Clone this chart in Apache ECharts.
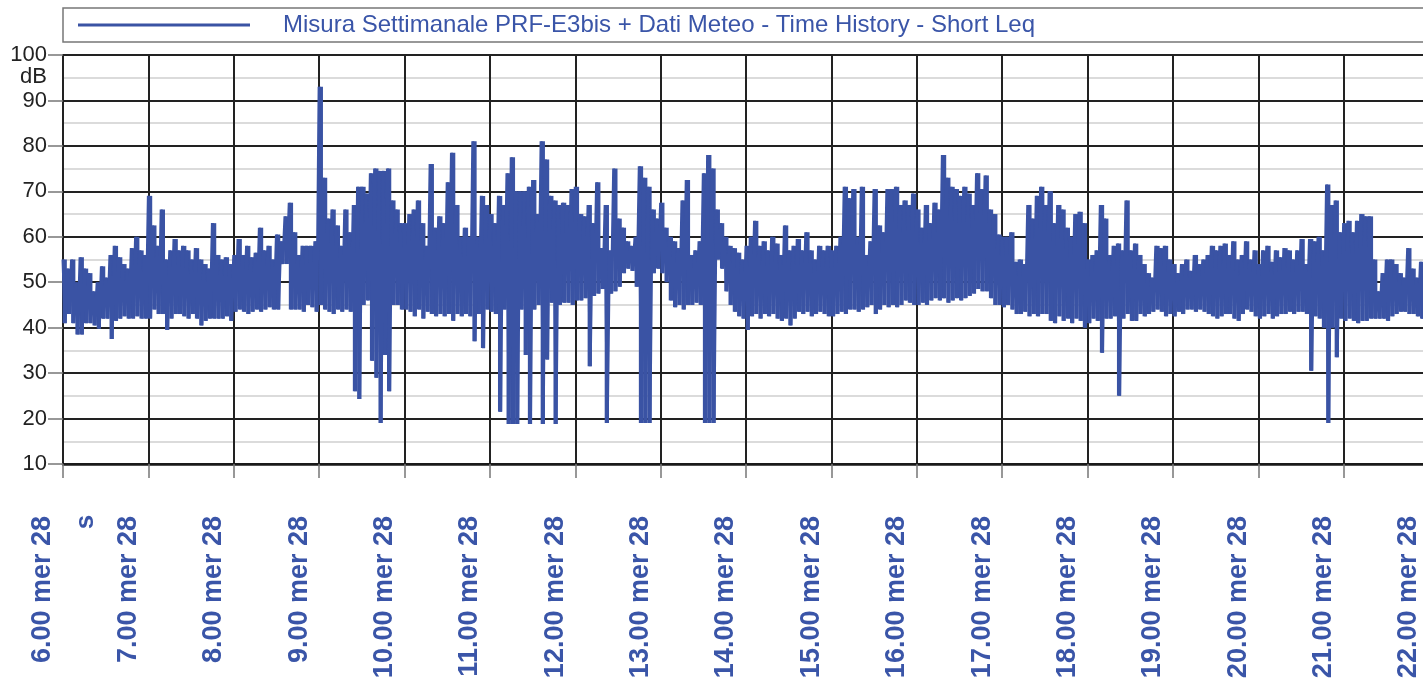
<!DOCTYPE html>
<html>
<head>
<meta charset="utf-8">
<script src="https://cdn.jsdelivr.net/npm/echarts@6/dist/echarts.min.js"></script>
<style>
html,body{margin:0;padding:0;background:#fff;}
#chart{width:1423px;height:679px;}
</style>
</head>
<body>
<div id="chart"></div>
<script>
// ---------- DATA ----------
const seriesName = 'Misura Settimanale PRF-E3bis + Dati Meteo - Time History - Short Leq';
const hourLabels = ['6.00 mer 28','7.00 mer 28','8.00 mer 28','9.00 mer 28','10.00 mer 28','11.00 mer 28',
  '12.00 mer 28','13.00 mer 28','14.00 mer 28','15.00 mer 28','16.00 mer 28','17.00 mer 28','18.00 mer 28',
  '19.00 mer 28','20.00 mer 28','21.00 mer 28','22.00 mer 28'];
const xUnitLabel = 's';
const yUnitLabel = 'dB';
const sampleStepMin = 3; // minutes between samples (from 6.00)

// highest Leq read in each 3-minute slot (dB)
const levelMax = [
  55,53,55,50,55.5,53,52,48,50,53.5,51,56,58,55.5,54,53,57.5,60,57,56,
  69,62.5,58,66,55,57,59.5,57,58,57,55,57.5,55,54,53,63,56,55,55.5,54,
  56,59.5,56,58,55.5,56.5,62,57,58,55,60.5,59,64.5,67.5,61,56,58,58,58,59,
  93,73,64,66,62.5,58,66,61,67,71,71,69.5,74,75,74.5,74.5,75,68,66,63,
  63,65,66,68,63,58,76,62,64.5,63,72,78.5,67,60,62,60,81,60,69,67,
  65,63,69,67,74,77.5,70,70,70,71,72.5,65,81,77,69,68,67,67.5,67,70.5,
  71,65,64.5,67,63,72,57.5,67,57,75,64,62,59,58,60,75.5,73,71,66,64,
  67.5,62,60,59,57.5,68,72.5,56,57,59,74,78,75,66,63,60,58,57.5,56.5,55,
  58,60,63.5,58,59,57,60,58.5,56,62.5,57,58,59.5,57,61,57,55,58,57,58,
  57,58,60,71,68.5,70.5,60,71,56,59,70.5,62.5,61,70.5,70.5,71,67,68,67,69.5,
  66,62,67,63,67.5,66,78,73,71,70.5,69,71,69.5,67,74,70.5,73.5,66,65,60.5,
  60,60,61,54.5,55,54,67,64,69,71,67,70,63,67,66,62,60,65,65.5,63,
  55,56,57,67,64,56,58,58.5,57,68,57,58.5,56,54,52,51,58,57.5,58,55,
  54,52,54,55,52.5,56,54,55,56,58,57,58,58.5,56,59,55,56,59,55,57,
  54,57,58,54.5,57,55.5,57.5,57,55,57,59.5,54,59.5,59,60,57,71.5,67,68,61,
  63,63.5,61,63.5,65,64.5,64.5,55,48,52,55,55,54,52,51,57.5,53,51,54.5,50,
  48
];

// lowest Leq read in each 3-minute slot (dB)
const levelMin = [
  41,43,41,38.5,38.5,41,41,40.5,39.8,42,42,37.5,41.5,42,42.5,42,42,42.5,42,42,
  42,44,43,43,39.5,42,43,43,42.5,42,43,42,40.5,41.5,42,42,42,42,42.5,41.5,
  43.5,44,43.5,43,43.5,44,43.5,44,44.5,44,44,54,54,44,44,44,43.5,45,44.5,43.5,
  45,44,43.5,43,44,43.5,44,43.5,26,24.3,45,46,32.7,29,19,34,26,45,45,44,
  44,43.5,42.5,44,42,43.5,43,42.5,43,42.5,43,41.5,43,42.5,43,42.5,37,43,35.5,44,
  43.5,43,21.5,44,18.8,18.8,18.8,44,34,18.8,44,45,18.8,33,45.5,18.8,45,45.5,45.5,45,
  46,46,46.5,31.5,47,47.5,48.5,19,47.5,48,49,52,53,52.5,49,19,19,19,52,53,
  52,50,46,44.5,45,44,45,45,45.5,45,19,19,19,55,53,48,45,43.5,42.5,42,
  39.5,42.5,43,42,43,42.5,43,42,41.5,42,40.5,42,43.5,43,43.5,42.5,43,43.5,43,42.5,
  42.5,43,43.5,43,44,44,43.5,44,44.5,45,43,44,45,44.5,45,44.5,45,46,45.5,45,
  45,45.5,45,46,46.5,46,46.5,45.5,46,46.5,46,46.5,47,47.5,48.5,48,48,46.5,45,45,
  44.5,45,44,43,43,43.5,42.5,43,42.5,43,43,41.5,41,42.5,41.5,42,41,42,41.5,40,
  41,42,41.5,34.5,42,42,42.5,25,42,43,41.5,41.5,43,42.5,43,43.5,44,43.5,42.5,43,
  42.5,43.5,43,44,44,43.5,44,43.5,43,42.5,42,42.5,43,43,42,41.5,43,44,43.5,42.5,
  42,42.5,43,42,42.5,43,43,43.5,43,43.5,43.5,43,30.5,42.5,42,40,19,40,33.5,42,
  41.5,42,41.5,41,41.5,41.5,42,42,42,42,41.5,42.5,43,43.5,43.5,43,43,42.5,42,41.5,
  42
];

// ---------- CHART ----------
const FONT = '"Liberation Sans", Arial, Helvetica, sans-serif';
const BLUE = '#3a53a4';
const LABEL_BLUE = '#3a55a8';

// zig-zag trace: max then min in each slot
const lineData = [];
// per-slot min..max span (fills the dense trace)
const bandData = [];
levelMax.forEach(function (v, i) {
  const t = i * sampleStepMin;
  lineData.push([t, v]);
  lineData.push([t + sampleStepMin / 2, levelMin[i]]);
  bandData.push([t, levelMin[i], v]);
});

function renderSpan(params, api) {
  const t = api.value(0), lo = api.value(1), hi = api.value(2);
  const a = api.coord([t - 0.3, hi]), b = api.coord([t + 2.7, lo]);
  return { type: 'rect', shape: { x: a[0], y: a[1], width: b[0] - a[0], height: b[1] - a[1] }, style: { fill: BLUE } };
}

const chart = echarts.init(document.getElementById('chart'));

chart.setOption({
  animation: false,
  backgroundColor: '#ffffff',
  grid: { left: 63, top: 55, width: 1366, height: 409, outerBoundsMode: 'none' },
  legend: {
    left: 63, top: 8,
    padding: [5, 480, 5, 15],
    borderColor: '#777', borderWidth: 1.5,
    icon: 'rect', itemWidth: 172, itemHeight: 3,
    textStyle: { fontFamily: FONT, fontSize: 24, color: LABEL_BLUE, lineHeight: 22, padding: [0, 0, 0, 28] },
    data: [seriesName]
  },
  xAxis: {
    type: 'value', min: 0, max: 960, interval: 60,
    axisLine: { show: true, onZero: false, lineStyle: { color: '#1a1a1a', width: 2.5 } },
    axisTick: { show: true, length: 14, lineStyle: { color: '#777', width: 1.5 } },
    splitLine: { show: true, lineStyle: { color: '#222', width: 2 } },
    axisLabel: {
      rotate: 90, margin: 52, color: LABEL_BLUE, fontFamily: FONT, fontSize: 27, fontWeight: 'bold',
      lineHeight: 40,
      formatter: function (v) { return hourLabels[Math.round(v / 60)] + '\n '; }
    }
  },
  yAxis: {
    type: 'value', min: 10, max: 100, interval: 10,
    axisLine: { show: true, lineStyle: { color: '#222', width: 2 } },
    axisTick: { show: true, length: 15, lineStyle: { color: '#777', width: 1.5 } },
    splitLine: { show: true, lineStyle: { color: '#222', width: 2 } },
    minorTick: { show: false, splitNumber: 2 },
    minorSplitLine: { show: true, lineStyle: { color: '#cfcfcf', width: 1.5 } },
    axisLabel: { fontFamily: FONT, fontSize: 22, color: '#222', margin: 16 }
  },
  graphic: [
    { type: 'text', x: 47, y: 77, style: { text: yUnitLabel, fontFamily: FONT, fontSize: 22, fill: '#222', align: 'right', verticalAlign: 'middle' } },
    { type: 'text', x: 86, y: 522, rotation: Math.PI / 2, style: { text: xUnitLabel, fontFamily: FONT, fontSize: 26, fontWeight: 'bold', fill: LABEL_BLUE, align: 'center', verticalAlign: 'middle' } }
  ],
  series: [
    { name: 'span', type: 'custom', data: bandData, renderItem: renderSpan, encode: { x: 0, y: [1, 2] }, progressive: 0 },
    {
      name: seriesName, type: 'line', data: lineData,
      showSymbol: false, symbol: 'none',
      lineStyle: { color: BLUE, width: 3 }, itemStyle: { color: BLUE }
    }
  ]
});
</script>
</body>
</html>
